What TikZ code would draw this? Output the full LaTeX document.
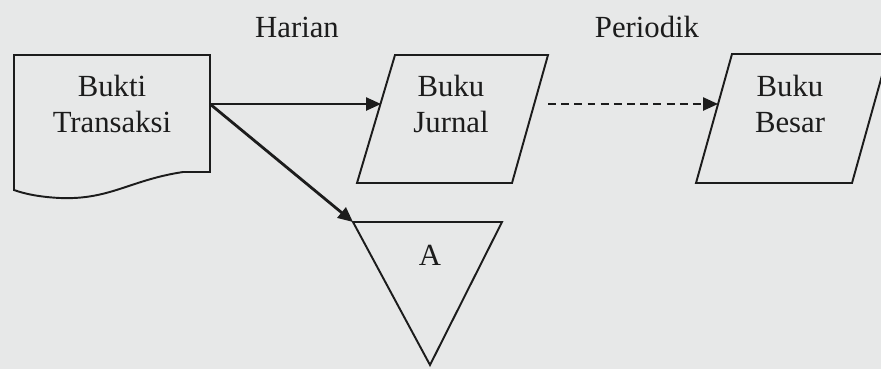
\documentclass[tikz,border=0pt]{standalone}
\usepackage{fontspec}
\setmainfont{Liberation Serif}
\usetikzlibrary{arrows.meta,positioning}
\definecolor{paper}{RGB}{231,232,232}
\definecolor{ink}{RGB}{28,28,28}

\begin{document}
\begin{tikzpicture}[
  x=0.02cm, y=-0.02cm,
  every node/.style={font=\fontsize{17.5}{20.5}\selectfont, text=ink, align=center},
  symbol/.style={draw=ink, line width=1.1pt},
  arrow/.style={-{Triangle[length=8.5pt, width=7.5pt]}, draw=ink, line width=1pt},
  ]

% Background
\fill[paper] (0,0) rectangle (881,369);
\clip (0,0) rectangle (881,369);

% Symbols
\draw[symbol] (14,55) -- (210,55) -- (210,172) -- (183,172)
  .. controls (130,180) and (110,200) .. (60,198)
  .. controls (40,197) and (25,194) .. (14,190) -- cycle;
\draw[symbol] (395,55) -- (548,55) -- (512,183) -- (357,183) -- cycle;
\draw[symbol] (732,54) -- (888,54) -- (852,183) -- (696,183) -- cycle;
\draw[symbol] (353,222) -- (502,222) -- (430,365) -- cycle;

% Nodes
\node (bukti) at (112,104) {Bukti\\Transaksi};
\node (jurnal) at (451,104) {Buku\\Jurnal};
\node (besar) at (790,104) {Buku\\Besar};
\node (A) at (430,255) {A};
\node (harian) at (297,27) {Harian};
\node (periodik) at (647,27) {Periodik};

% Ends of the arrows
\coordinate (buktiOut) at (210,104);
\coordinate (jurnalIn) at (381,104);
\coordinate (jurnalOut) at (548,104);
\coordinate (besarIn) at (718,104);
\coordinate (AIn) at (353,222);

% Arrows
\draw[arrow] (buktiOut) -- (jurnalIn);
\draw[arrow, line width=1.6pt] (buktiOut) -- (AIn);
\draw[arrow, dash pattern=on 4.5pt off 3pt] (jurnalOut) -- (besarIn);

\end{tikzpicture}
\end{document}
